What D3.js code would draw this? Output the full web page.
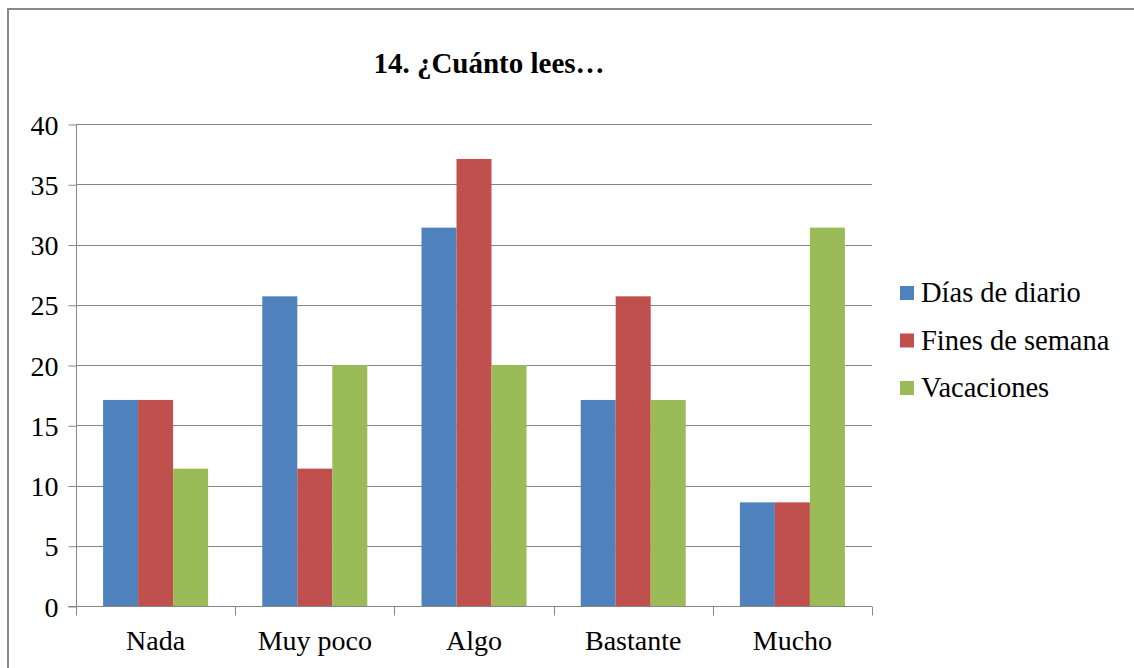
<!DOCTYPE html>
<html>
<head>
<meta charset="utf-8">
<script src="https://cdnjs.cloudflare.com/ajax/libs/d3/7.8.5/d3.min.js"></script>
<style>
  body { margin: 0; background: #fff; }
  svg text { font-family: "Liberation Serif", "Times New Roman", serif !important; fill: #000; }
</style>
</head>
<body>
<div id="chart"></div>
<script>
// data
var categories = ["Nada", "Muy poco", "Algo", "Bastante", "Mucho"];
var seriesNames = ["Días de diario", "Fines de semana", "Vacaciones"];
var diasDiario = [17.1, 25.7, 31.4, 17.1, 8.6];
var finesSemana = [17.1, 11.4, 37.1, 25.7, 8.6];
var vacaciones = [11.4, 20, 20, 17.1, 31.4];
var yTicks = [0, 5, 10, 15, 20, 25, 30, 35, 40];

var colors = ["#4F81BD", "#C0504D", "#9BBB59"];
var series = [diasDiario, finesSemana, vacaciones];

var width = 1134, height = 668;
var plotLeft = 76, plotRight = 872, plotTop = 124, plotBottom = 606;
var fontSize = "28px";

var svg = d3.select("#chart").append("svg")
  .attr("width", width)
  .attr("height", height);

// outer frame (runs off right and bottom edge)
svg.append("rect")
  .attr("x", 8).attr("y", 9)
  .attr("width", 1140).attr("height", 680)
  .attr("fill", "#fff")
  .attr("stroke", "#898989")
  .attr("stroke-width", 2);

// title
svg.append("text")
  .attr("x", 489).attr("y", 73)
  .attr("text-anchor", "middle")
  .attr("font-size", "29px")
  .attr("font-weight", "bold")
  .text("14. ¿Cuánto lees…");

var y = d3.scaleLinear().domain([0, 40]).range([plotBottom, plotTop]);
var x0 = d3.scaleBand().domain(categories).range([plotLeft, plotRight]);
var x1 = d3.scaleBand().domain(d3.range(3)).range([0, 105]);
var groupOffset = (x0.bandwidth() - 105) / 2;

// gridlines
svg.append("g").selectAll("line")
  .data(yTicks.slice(1))
  .enter().append("line")
  .attr("x1", plotLeft).attr("x2", plotRight)
  .attr("y1", d => Math.round(y(d)) + 0.5).attr("y2", d => Math.round(y(d)) + 0.5)
  .attr("stroke", "#868686")
  .attr("stroke-width", 1);

// bars
series.forEach(function(vals, s) {
  svg.append("g").selectAll("rect")
    .data(vals)
    .enter().append("rect")
    .attr("x", (d, i) => x0(categories[i]) + groupOffset + x1(s))
    .attr("width", x1.bandwidth())
    .attr("y", d => y(d))
    .attr("height", d => y(0) - y(d))
    .attr("fill", colors[s]);
});

// y axis
var yAxis = d3.axisLeft(y).tickValues(yTicks).tickSize(8).tickPadding(10);
var gy = svg.append("g")
  .attr("transform", "translate(" + (plotLeft + 0.5) + ",0.5)")
  .call(yAxis)
  .attr("font-family", "Liberation Serif")
  .attr("font-size", fontSize);
gy.select(".domain").attr("stroke", "#868686").attr("d", "M0," + plotTop + "V" + plotBottom);
gy.selectAll(".tick line").attr("stroke", "#868686");
gy.selectAll("text").attr("dy", "0.34em");

// x axis
var gx = svg.append("g")
  .attr("transform", "translate(0," + (plotBottom + 0.5) + ")");
gx.append("line")
  .attr("x1", plotLeft - 8).attr("x2", plotRight)
  .attr("stroke", "#868686");
gx.selectAll(".cat-tick")
  .data(categories.concat(["end"]))
  .enter().append("line")
  .attr("class", "cat-tick")
  .attr("x1", (d, i) => Math.round(plotLeft + i * x0.step()) + 0.5)
  .attr("x2", (d, i) => Math.round(plotLeft + i * x0.step()) + 0.5)
  .attr("y1", 0).attr("y2", 9)
  .attr("stroke", "#868686");
gx.selectAll(".cat-label")
  .data(categories)
  .enter().append("text")
  .attr("class", "cat-label")
  .attr("x", d => x0(d) + x0.bandwidth() / 2)
  .attr("y", 43)
  .attr("text-anchor", "middle")
  .attr("font-size", fontSize)
  .text(d => d);

// legend
var legend = svg.append("g").attr("transform", "translate(900,293)");
seriesNames.forEach(function(name, i) {
  var row = legend.append("g").attr("transform", "translate(0," + (i * 47.5) + ")");
  row.append("rect")
    .attr("x", 0).attr("y", -7)
    .attr("width", 14).attr("height", 14)
    .attr("fill", colors[i]);
  row.append("text")
    .attr("x", 21).attr("y", 9)
    .attr("font-size", "28.5px")
    .text(name);
});
</script>
</body>
</html>
